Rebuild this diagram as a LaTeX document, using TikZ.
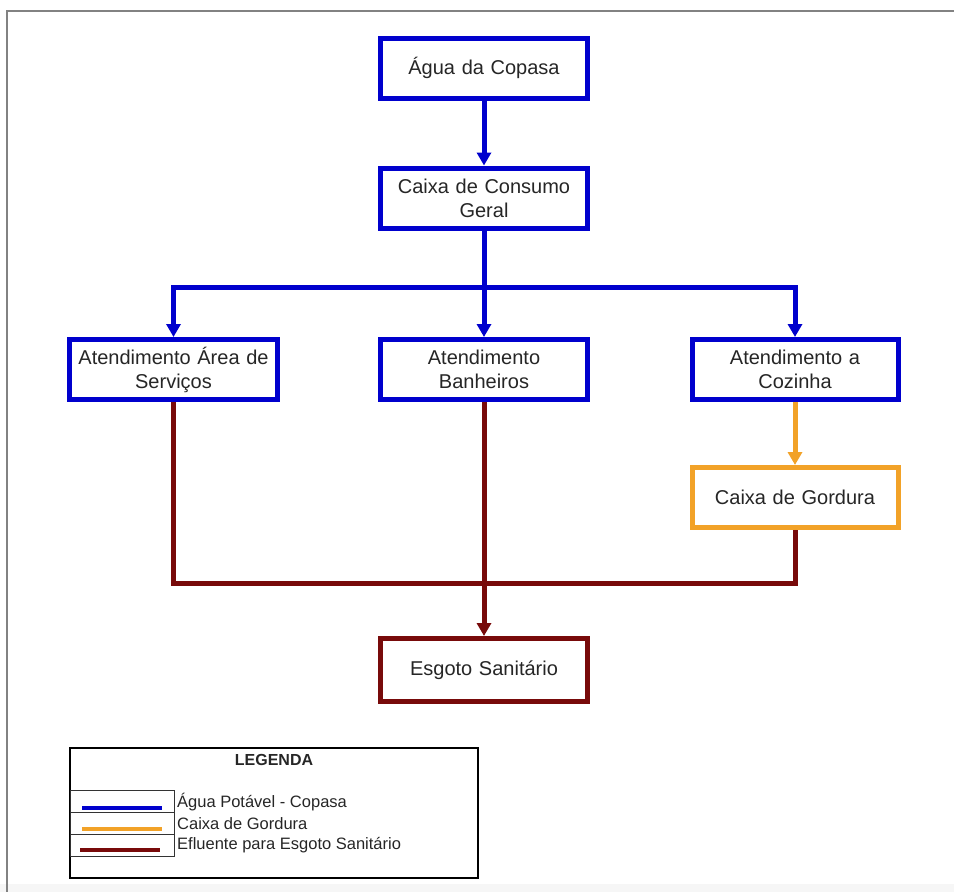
\documentclass[tikz,border=0pt]{standalone}
\usepackage{fontspec}
\setmainfont{Liberation Sans}
\usetikzlibrary{arrows.meta}
\definecolor{cblue}{RGB}{0,0,205}
\definecolor{corange}{RGB}{242,162,40}
\definecolor{cbrown}{RGB}{120,10,10}
\definecolor{cframe}{RGB}{130,130,130}
\tikzset{
  boxnode/.style={draw=#1, line width=5pt, fill=white, minimum width=207pt, minimum height=60pt,
    inner sep=0pt, text width=204pt, align=center, font=\fontsize{20}{24}\selectfont, text=black!85},
  flow/.style={draw=#1, line width=5pt},
  tip/.style={-{Triangle[width=14pt,length=13pt]}},
  legline/.style={draw=#1, line width=4.5pt},
  legrow/.style={draw=black!80, line width=1pt, minimum width=104pt, minimum height=22pt, inner sep=0pt, anchor=north west},
  legtext/.style={anchor=west, inner sep=0pt, font=\fontsize{16.5}{19}\selectfont, text=black!85}
}
\begin{document}
\begin{tikzpicture}[x=1pt,y=-1pt]
\useasboundingbox (0,0) rectangle (954,892);
\fill[gray!7] (0,884) rectangle (954,892);
\draw[cframe, line width=2pt] (7,892) -- (7,11) -- (954,11);

% nodes
\node[boxnode=cblue] (agua) at (484,68) {Água da Copasa};
\node[boxnode=cblue] (caixa) at (484,198) {Caixa de Consumo\\Geral};
\node[boxnode=cblue, minimum width=208pt, minimum height=60pt] (serv) at (173.5,369.5) {Atendimento Área de\\Serviços};
\node[boxnode=cblue, minimum height=60pt] (banh) at (484,369.5) {Atendimento\\Banheiros};
\node[boxnode=cblue, minimum width=206pt, minimum height=60pt] (coz) at (795,369.5) {Atendimento a\\Cozinha};
\node[boxnode=corange, minimum width=206pt] (gord) at (795,497.5) {Caixa de Gordura};
\node[boxnode=cbrown, minimum height=63pt] (esg) at (484,670) {Esgoto Sanitário};

\coordinate (j) at (484,287);
\coordinate (m) at (484,583);

% blue connectors
\draw[flow=cblue, tip] (agua) -- (caixa);
\draw[flow=cblue] (caixa.south) -- (j);
\draw[flow=cblue, tip] (j) -| (serv.north);
\draw[flow=cblue, tip] (j) -| (coz.north);
\draw[flow=cblue, tip] (j) -- (banh.north);

% orange
\draw[flow=corange, tip] (coz) -- (gord);

% brown
\draw[flow=cbrown] (serv.south) |- (m) -| (gord.south);
\draw[flow=cbrown, tip] (banh) -- (esg);

% legend
\node[draw=black, line width=2pt, minimum width=408pt, minimum height=130pt, inner sep=0pt, anchor=north west] (leg) at (69,747) {};
\node[font=\bfseries\fontsize{16}{19}\selectfont, text=black!85] (legt) at (274,760) {LEGENDA};
\node[legrow] (r1) at (70,790) {};
\node[legrow] (r2) at (70,812) {};
\node[legrow] (r3) at (70,834) {};
\coordinate (b1) at (82,808); \coordinate (b2) at (162,808);
\coordinate (o1) at (82,829); \coordinate (o2) at (162,829);
\coordinate (e1) at (80,850); \coordinate (e2) at (160,850);
\draw[legline=cblue] (b1) -- (b2);
\draw[legline=corange] (o1) -- (o2);
\draw[legline=cbrown] (e1) -- (e2);
\node[legtext] (t1) at (177,802) {Água Potável - Copasa};
\node[legtext] (t2) at (177,823.5) {Caixa de Gordura};
\node[legtext] (t3) at (177,845) {Efluente para Esgoto Sanitário};
\end{tikzpicture}
\end{document}
